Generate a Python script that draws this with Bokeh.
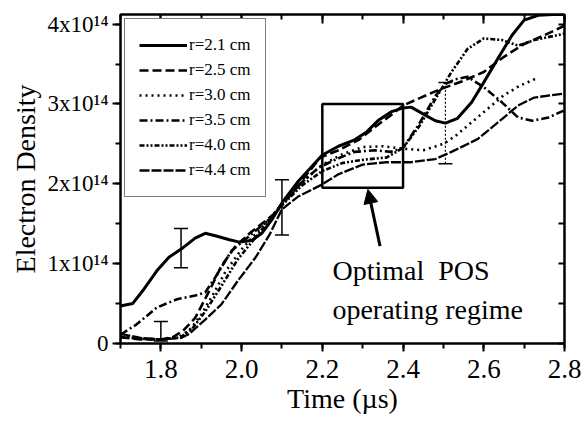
from bokeh.plotting import figure
from bokeh.models import (Range1d, FixedTicker, LinearAxis, Legend, LegendItem, Whisker,
                          ColumnDataSource, Arrow, NormalHead, TeeHead, Label,
                          PrintfTickFormatter, CustomJSTickFormatter)
from bokeh.embed import file_html
from bokeh.resources import INLINE

FONT = "Liberation Serif"

# ---------------- data (electron density in units of 1e14) ----------------
t_r21 = [1.700, 1.730, 1.755, 1.790, 1.820, 1.855, 1.885, 1.910, 1.935, 1.970, 1.995, 2.025,
         2.050, 2.075, 2.100, 2.140, 2.200, 2.240, 2.280, 2.310, 2.340, 2.370, 2.400, 2.420,
         2.455, 2.480, 2.505, 2.535, 2.570, 2.600, 2.635, 2.670, 2.700, 2.735, 2.770, 2.800]
n_r21 = [0.47, 0.50, 0.66, 0.91, 1.08, 1.20, 1.32, 1.38, 1.35, 1.30, 1.27, 1.29,
         1.38, 1.55, 1.76, 2.03, 2.36, 2.47, 2.55, 2.65, 2.80, 2.90, 2.95, 2.96,
         2.86, 2.79, 2.76, 2.82, 3.02, 3.27, 3.57, 3.86, 4.05, 4.11, 4.12, 4.12]

t_r25 = [1.700, 1.750, 1.800, 1.830, 1.855, 1.885, 1.920, 1.950, 1.985, 2.020, 2.050, 2.080,
         2.100, 2.140, 2.195, 2.240, 2.290, 2.330, 2.370, 2.400, 2.440, 2.490, 2.545, 2.600,
         2.650, 2.700, 2.750, 2.800]
n_r25 = [0.08, 0.05, 0.05, 0.08, 0.16, 0.32, 0.66, 0.97, 1.22, 1.38, 1.50, 1.62,
         1.75, 1.98, 2.33, 2.42, 2.55, 2.71, 2.86, 2.98, 3.07, 3.18, 3.28, 3.40,
         3.59, 3.75, 3.86, 3.98]

t_r30 = [1.700, 1.750, 1.800, 1.840, 1.870, 1.900, 1.930, 1.960, 2.000, 2.040, 2.070, 2.100,
         2.150, 2.200, 2.250, 2.300, 2.350, 2.400, 2.450, 2.500, 2.530, 2.570, 2.610, 2.650,
         2.690, 2.735]
n_r30 = [0.10, 0.06, 0.05, 0.07, 0.16, 0.36, 0.62, 0.90, 1.18, 1.40, 1.57, 1.74,
         2.02, 2.24, 2.37, 2.46, 2.47, 2.44, 2.42, 2.50, 2.60, 2.77, 2.94, 3.11,
         3.23, 3.33]

t_r35 = [1.700, 1.740, 1.790, 1.840, 1.885, 1.910, 1.935, 1.975, 2.020, 2.070, 2.100, 2.150,
         2.190, 2.240, 2.280, 2.330, 2.370, 2.400, 2.440, 2.480, 2.505, 2.530, 2.560, 2.600,
         2.645, 2.685, 2.720, 2.760, 2.800]
n_r35 = [0.11, 0.24, 0.45, 0.555, 0.60, 0.64, 0.83, 1.16, 1.35, 1.56, 1.74, 2.02,
         2.20, 2.32, 2.40, 2.42, 2.40, 2.45, 2.75, 3.10, 3.25, 3.31, 3.34, 3.21,
         3.02, 2.83, 2.79, 2.83, 2.92]

t_r40 = [1.700, 1.750, 1.800, 1.850, 1.880, 1.910, 1.950, 1.990, 2.030, 2.070, 2.100, 2.150,
         2.200, 2.250, 2.300, 2.360, 2.400, 2.440, 2.480, 2.520, 2.560, 2.600, 2.645, 2.685,
         2.725, 2.800]
n_r40 = [0.08, 0.06, 0.05, 0.08, 0.20, 0.40, 0.72, 1.05, 1.30, 1.55, 1.73, 1.98,
         2.16, 2.26, 2.30, 2.33, 2.45, 2.72, 3.06, 3.40, 3.69, 3.82, 3.80, 3.73,
         3.80, 3.88]

t_r44 = [1.700, 1.750, 1.800, 1.850, 1.870, 1.910, 1.950, 1.990, 2.035, 2.070, 2.100, 2.140,
         2.195, 2.240, 2.300, 2.360, 2.420, 2.480, 2.520, 2.585, 2.645, 2.685, 2.725, 2.800]
n_r44 = [0.12, 0.07, 0.05, 0.07, 0.12, 0.30, 0.49, 0.78, 1.08, 1.37, 1.68, 1.84,
         1.98, 2.12, 2.24, 2.27, 2.27, 2.31, 2.40, 2.56, 2.81, 2.98, 3.08, 3.13]

series_labels = ["r=2.1 cm", "r=2.5 cm", "r=3.0 cm", "r=3.5 cm", "r=4.0 cm", "r=4.4 cm"]
series_t = [t_r21, t_r25, t_r30, t_r35, t_r40, t_r44]
series_n = [n_r21, n_r25, n_r30, n_r35, n_r40, n_r44]

# error bars
eb_t = [1.80, 1.85, 2.10]
eb_lo = [0.03, 0.95, 1.36]
eb_hi = [0.275, 1.44, 2.05]
eb2_t = [2.505]
eb2_lo = [2.25]
eb2_hi = [3.27]

# optimal regime box
box_t = [2.2, 2.4]
box_n = [1.95, 3.0]

x_ticks = [1.8, 2.0, 2.2, 2.4, 2.6, 2.8]
x_minor = [1.7, 1.8, 1.9, 2.0, 2.1, 2.2, 2.3, 2.4, 2.5, 2.6, 2.7, 2.8]
y_ticks = [0, 1, 2, 3, 4]
y_minor = [0, 0.5, 1, 1.5, 2, 2.5, 3, 3.5, 4]
y_tick_labels = ["0", "1x10\u00b9\u2074", "2x10\u00b9\u2074", "3x10\u00b9\u2074", "4x10\u00b9\u2074"]

# ---------------- styles ----------------
styles = [
    dict(line_width=3.0, line_dash="solid"),
    dict(line_width=2.6, line_dash="9 4"),
    dict(line_width=2.6, line_dash="2 4"),
    dict(line_width=2.6, line_dash="8 3 2 3"),
    dict(line_width=2.6, line_dash="5 2 2 2 2 2"),
    dict(line_width=2.3, line_dash="10 2"),
]

p = figure(width=584, height=426, output_backend="svg", toolbar_location=None,
           x_range=Range1d(1.7, 2.8), y_range=Range1d(0, 4.12),
           min_border_left=120, min_border_right=20, min_border_top=14, min_border_bottom=83)
p.grid.visible = False
p.outline_line_color = "black"
p.outline_line_width = 2
p.background_fill_color = "white"
p.border_fill_color = "white"


def style_axis(ax):
    ax.axis_line_color = "black"
    ax.major_tick_line_color = "black"
    ax.minor_tick_line_color = "black"
    ax.major_label_text_color = "black"
    ax.axis_label_text_color = "black"
    ax.axis_line_width = 2
    ax.major_tick_line_width = 2
    ax.minor_tick_line_width = 2


# bottom axis
xa = p.xaxis[0]
style_axis(xa)
xa.ticker = FixedTicker(ticks=x_ticks, minor_ticks=x_minor)
xa.formatter = PrintfTickFormatter(format="%.1f")
xa.axis_label = "Time (\u00b5s)"
xa.axis_label_text_font = FONT
xa.axis_label_text_font_size = "28px"
xa.axis_label_text_font_style = "normal"
xa.axis_label_standoff = 2
xa.major_label_text_font = FONT
xa.major_label_text_font_size = "27px"
xa.major_label_standoff = 8
xa.major_tick_out = 8
xa.major_tick_in = 0
xa.minor_tick_out = 5
xa.minor_tick_in = 0

# left axis
ya = p.yaxis[0]
style_axis(ya)
ya.ticker = FixedTicker(ticks=y_ticks, minor_ticks=y_minor)
ya.major_label_overrides = {k: v for k, v in zip(y_ticks, y_tick_labels)}
ya.axis_label = "Electron Density"
ya.axis_label_text_font = FONT
ya.axis_label_text_font_size = "28px"
ya.axis_label_text_font_style = "normal"
ya.axis_label_standoff = 4
ya.major_label_text_font = FONT
ya.major_label_text_font_size = "23px"
ya.major_label_standoff = 4
ya.major_tick_out = 8
ya.major_tick_in = 0
ya.minor_tick_out = 5
ya.minor_tick_in = 0

# top and right axes (ticks inward, no labels)
blank = CustomJSTickFormatter(code="return '';")
top = LinearAxis(ticker=FixedTicker(ticks=x_ticks, minor_ticks=x_minor), formatter=blank,
                 major_tick_in=9, major_tick_out=0, minor_tick_in=5, minor_tick_out=0,
                 major_label_standoff=0)
style_axis(top)
p.add_layout(top, "above")
right = LinearAxis(ticker=FixedTicker(ticks=y_minor, minor_ticks=[]), formatter=blank,
                   major_tick_in=6, major_tick_out=0, minor_tick_in=0, minor_tick_out=0,
                   major_label_standoff=0)
style_axis(right)
p.add_layout(right, "right")

# curves
items = []
for lab, tt, nn, st in zip(series_labels, series_t, series_n, styles):
    r = p.line(tt, nn, line_color="black", line_join="round", **st)
    items.append(LegendItem(label=lab, renderers=[r]))

legend = Legend(items=items, location=(4, 146))
legend.border_line_color = "black"
legend.border_line_width = 1.5
legend.background_fill_color = "white"
legend.background_fill_alpha = 1.0
legend.label_text_font = FONT
legend.label_text_font_size = "17px"
legend.label_text_color = "black"
legend.glyph_width = 48
legend.glyph_height = 24
legend.label_height = 24
legend.label_standoff = 2
legend.spacing = 1
legend.padding = 14
legend.margin = 0
p.add_layout(legend)

# error bars
src1 = ColumnDataSource(dict(base=eb_t, lower=eb_lo, upper=eb_hi))
w1 = Whisker(base="base", lower="lower", upper="upper", source=src1, dimension="height",
             line_color="black", line_width=1.5,
             upper_head=TeeHead(size=14, line_width=1.5, line_color="black"),
             lower_head=TeeHead(size=14, line_width=1.5, line_color="black"))
p.add_layout(w1)
src2 = ColumnDataSource(dict(base=eb2_t, lower=eb2_lo, upper=eb2_hi))
w2 = Whisker(base="base", lower="lower", upper="upper", source=src2, dimension="height",
             line_color="black", line_width=1.2, line_dash="2 2",
             upper_head=TeeHead(size=14, line_width=1.5, line_color="black"),
             lower_head=TeeHead(size=14, line_width=1.5, line_color="black"))
p.add_layout(w2)

# optimal regime box
p.quad(left=[box_t[0]], right=[box_t[1]], bottom=[box_n[0]], top=[box_n[1]],
       fill_color=None, line_color="black", line_width=2.5)

# arrow and annotation
p.add_layout(Arrow(end=NormalHead(size=14, fill_color="black", line_color="black"),
                   x_start=2.343, y_start=1.22, x_end=2.313, y_end=1.93,
                   line_color="black", line_width=3))
p.add_layout(Label(x=2.225, y=0.91, text="Optimal\u00a0 POS", text_font=FONT,
                   text_font_size="28px", text_baseline="alphabetic", text_color="black"))
p.add_layout(Label(x=2.225, y=0.43, text="operating regime", text_font=FONT,
                   text_font_size="28px", text_baseline="alphabetic", text_color="black"))

open("out.html", "w").write(file_html(p, INLINE))
